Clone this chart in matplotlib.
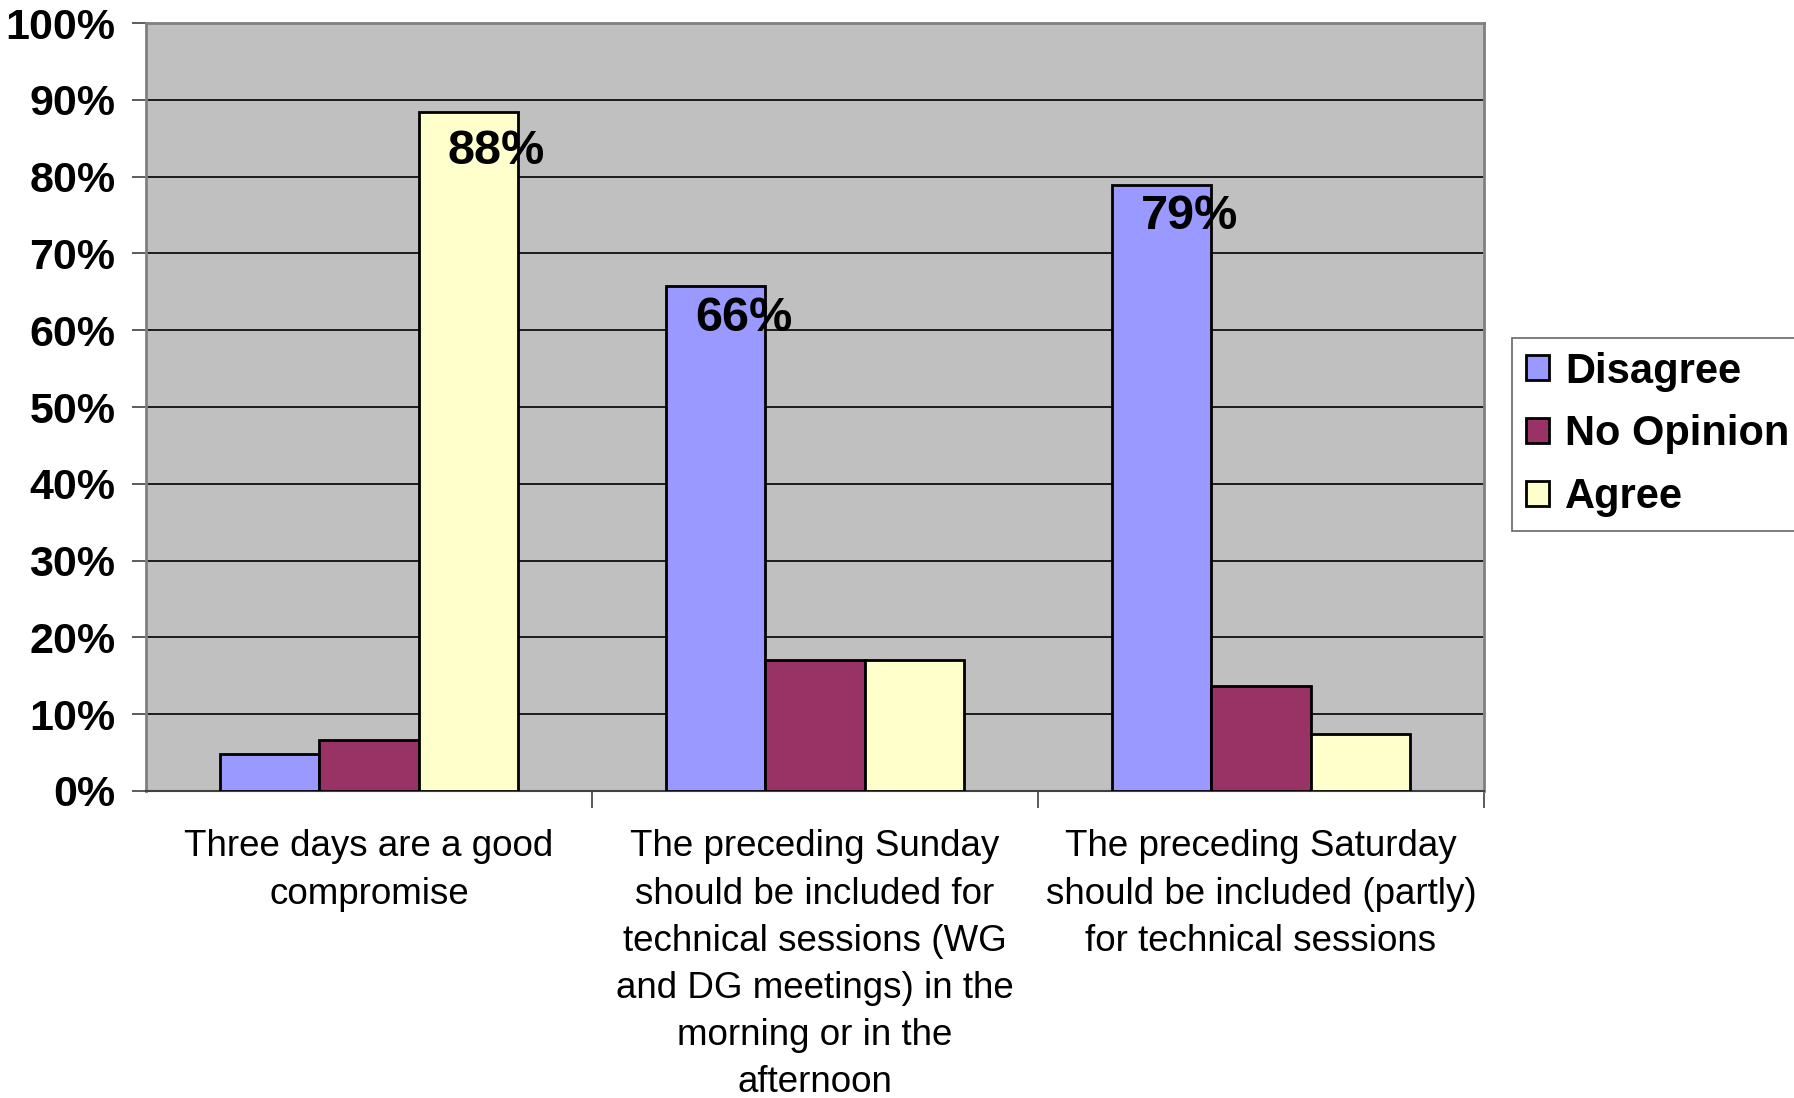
import numpy as np
import matplotlib.pyplot as plt

# ── Data ─────────────────────────────────────────────
categories = [
    "Three days are a good\ncompromise",
    "The preceding Sunday\nshould be included for\ntechnical sessions (WG\nand DG meetings) in the\nmorning or in the\nafternoon",
    "The preceding Saturday\nshould be included (partly)\nfor technical sessions",
]
series_names = ["Disagree", "No Opinion", "Agree"]
disagree   = [4.8, 65.7, 78.9]
no_opinion = [6.7, 17.0, 13.7]
agree      = [88.4, 17.0, 7.4]
labels = [(2, 0, "88%"), (0, 1, "66%"), (0, 2, "79%")]  # (series idx, category idx, text)

colors = ["#9999FF", "#993366", "#FFFFCC"]
yticks = list(range(0, 101, 10))

# ── Figure ───────────────────────────────────────────
plt.rcParams['font.family'] = ['Liberation Sans', 'DejaVu Sans']
fig = plt.figure(figsize=(17.94, 10.98), dpi=100)
ax = fig.add_axes([0.0814, 0.2796, 0.7458, 0.6994])
ax.set_facecolor("#C0C0C0")

x = np.arange(len(categories))
w = 1 / 4.5
values = [disagree, no_opinion, agree]
for i, (name, vals) in enumerate(zip(series_names, values)):
    ax.bar(x + (i - 1) * w, vals, width=w, color=colors[i],
           edgecolor="black", linewidth=2, label=name, zorder=3)

for si, ci, txt in labels:
    xb = ci + (si - 1) * w
    v = values[si][ci]
    dy = 2.2 if si == 2 else 1.2
    ax.text(xb + 0.062, v - dy, txt, ha="center", va="top",
            fontsize=35, fontweight="bold", zorder=4)

ax.set_xlim(-0.5, 2.5)
ax.set_ylim(0, 100)
ax.set_yticks(yticks)
ax.set_yticklabels([f"{t}%" for t in yticks], fontsize=31, fontweight="bold")
ax.yaxis.grid(True, color="black", linewidth=1.2, zorder=1)
ax.tick_params(axis="y", length=10, width=1.2, color="#404040", pad=12)

ax.set_xticks([0.5, 1.5, 2.5], minor=False)
ax.set_xticklabels([])
ax.tick_params(axis="x", length=12, width=1.2, color="#404040")
for xi, cat in zip(x, categories):
    ax.text(xi, -5.0, cat, ha="center", va="top", fontsize=26.5,
            linespacing=1.45, transform=ax.transData)

for side in ["top", "right", "left"]:
    ax.spines[side].set_color("#808080")
    ax.spines[side].set_linewidth(2)
ax.spines["bottom"].set_color("#404040")
ax.spines["bottom"].set_linewidth(1.5)

leg = fig.legend(loc="upper left", bbox_to_anchor=(0.843, 0.692),
                 prop={"size": 30, "weight": "bold"}, frameon=True,
                 fancybox=False, edgecolor="#404040", handlelength=0.55,
                 handleheight=0.55, handletextpad=0.4, labelspacing=0.55,
                 borderpad=0.32, borderaxespad=0)
leg.get_frame().set_linewidth(1.2)

fig.savefig("out.png", dpi=100)
